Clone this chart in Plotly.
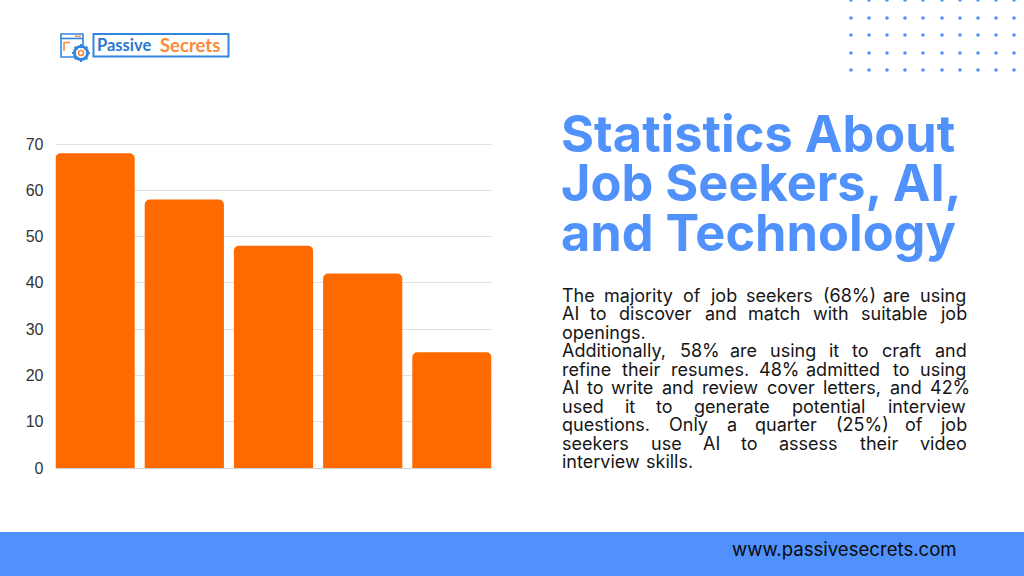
import plotly.graph_objects as go

categories = ["Job discovery", "Resumes", "Cover letters", "Interview questions", "Video interview skills"]
values = [68, 58, 48, 42, 25]
y_ticks = [0, 10, 20, 30, 40, 50, 60, 70]

title_lines = ["Statistics About", "Job Seekers, AI,", "and Technology"]

body_lines = [
    "The majority of job seekers (68%) are using",
    "AI to discover and match with suitable job",
    "openings.",
    "Additionally, 58% are using it to craft and",
    "refine their resumes. 48% admitted to using",
    "AI to write and review cover letters, and 42%",
    "used it to generate potential interview",
    "questions. Only a quarter (25%) of job",
    "seekers use AI to assess their video",
    "interview skills.",
]
last_lines = ["openings.", "interview skills."]
body_y = [295, 313.5, 332, 350.5, 369, 387.5, 406, 424.5, 443, 461]

dot_x = [851, 869, 887, 905, 923, 942, 960, 978, 996, 1014]
dot_y = [0, 18, 35, 53, 70]

W, H = 1024, 576
BLUE = "#5191fb"
ORANGE = "#ff6a00"
LOGO_BLUE = "#2f86dc"
LOGO_ORANGE = "#f98a3c"
BODY_SIZE = 18
BODY_LEFT, BODY_RIGHT = 560, 965

# rough Inter advance widths in em, only used to justify the body text
CHAR_EM = {"a": .56, "b": .61, "c": .56, "d": .61, "e": .58, "f": .35, "g": .61, "h": .59, "i": .24, "j": .24,
           "k": .54, "l": .24, "m": .87, "n": .59, "o": .6, "p": .61, "q": .61, "r": .37, "s": .52, "t": .35,
           "u": .59, "v": .55, "w": .81, "x": .54, "y": .55, "z": .55, "A": .67, "I": .26, "O": .76, "T": .62,
           "%": .8, "(": .36, ")": .36, ",": .25, ".": .25}


def word_width(word):
    return sum(CHAR_EM.get(c, .62) for c in word) * BODY_SIZE * 1.02


def px(x):
    return x / W


def py(y):
    return 1 - y / H


def text(x, y, s, size, color="#111111", family="Inter", anchor="left"):
    return dict(x=px(x), y=py(y), xref="paper", yref="paper", text=s, showarrow=False,
                xanchor=anchor, yanchor="middle", font=dict(size=size, color=color, family=family))


def box(x0, y0, x1, y1, **kw):
    return dict(type="rect", xref="paper", yref="paper", x0=px(x0), x1=px(x1), y0=py(y0), y1=py(y1), **kw)


def circle(cx, cy, r, **kw):
    return dict(type="circle", xref="paper", yref="paper", x0=px(cx - r), x1=px(cx + r), y0=py(cy - r), y1=py(cy + r), **kw)


def seg(x0, y0, x1, y1, color, width):
    return dict(type="line", xref="paper", yref="paper", x0=px(x0), x1=px(x1), y0=py(y0), y1=py(y1),
                line=dict(color=color, width=width))


fig = go.Figure()
fig.add_trace(go.Bar(x=categories, y=values, marker=dict(color=ORANGE, line_width=0)))

shapes = [box(0, 532, W, H, fillcolor=BLUE, line_width=0)]
for y in dot_y:
    for x in dot_x:
        shapes.append(circle(x, y, 1.8, fillcolor=BLUE, line_width=0))

# logo
shapes += [
    box(93.5, 34, 228.5, 56.5, line=dict(color=LOGO_BLUE, width=2), fillcolor="white"),
    box(61, 34, 83, 57, line=dict(color=LOGO_BLUE, width=1.6), fillcolor="white"),
    seg(61, 38.5, 83, 38.5, LOGO_BLUE, 1.6),
    seg(64, 42.5, 70, 42.5, LOGO_ORANGE, 1.6),
    seg(64, 42, 64, 51, LOGO_ORANGE, 1.6),
    seg(75, 36.3, 81, 36.3, LOGO_ORANGE, 1.4),
    circle(81, 53, 6.5, line=dict(color=LOGO_BLUE, width=3), fillcolor="white"),
    seg(81, 44, 81, 62, LOGO_BLUE, 2),
    seg(72, 53, 90, 53, LOGO_BLUE, 2),
    seg(74.6, 46.6, 87.4, 59.4, LOGO_BLUE, 2),
    seg(74.6, 59.4, 87.4, 46.6, LOGO_BLUE, 2),
    circle(81, 53, 5, fillcolor="white", line_width=0),
    circle(81, 53, 2.5, line=dict(color=LOGO_ORANGE, width=1.6), fillcolor="white"),
]

annotations = [
    text(95, 45, "<b>Passive</b>", 16.5, color="#2a78cc", family="Lato"),
    text(158, 45, "<b>Secrets</b>", 18.5, color=LOGO_ORANGE, family="Lato"),
    text(730, 549, "www.passivesecrets.com", 18.6, color="#0a0a0a", family="Inter"),
]
for line_y, line in zip([133, 183, 232], title_lines):
    annotations.append(text(559, line_y, "<b>" + line + "</b>", 50.5, color=BLUE))

for line_y, line in zip(body_y, body_lines):
    words = line.split(" ")
    widths = [word_width(w) for w in words]
    if line in last_lines:
        gap = 5
    else:
        gap = (BODY_RIGHT - BODY_LEFT - sum(widths)) / (len(words) - 1)
    x = BODY_LEFT
    for word, width in zip(words, widths):
        annotations.append(text(x, line_y, word, BODY_SIZE, color="#161616"))
        x += width + gap

fig.update_layout(
    width=W,
    height=H,
    margin=dict(l=0, r=0, t=0, b=0),
    paper_bgcolor="white",
    plot_bgcolor="white",
    showlegend=False,
    bargap=0.112,
    barcornerradius=5,
    shapes=shapes,
    annotations=annotations,
    xaxis=dict(domain=[px(55.5), px(491.5)], range=[-0.444, 4.444], showticklabels=False, showgrid=False,
               zeroline=False, ticks="", automargin=False),
    # range runs a bit past 70, plotly drops a gridline that sits right on the edge
    yaxis=dict(domain=[py(468), py(141.69)], range=[0, 70.5], tickvals=y_ticks, showgrid=True, gridcolor="#e2e2e2",
               gridwidth=1, zeroline=True, zerolinecolor="#d0d0d0", zerolinewidth=1, ticks="",
               ticklabelstandoff=11, automargin=False,
               tickfont=dict(family="Liberation Sans", size=16, color="#333333")),
)

fig.write_html("out.html", config={"displayModeBar": False}, post_script="document.body.style.margin='0';")
